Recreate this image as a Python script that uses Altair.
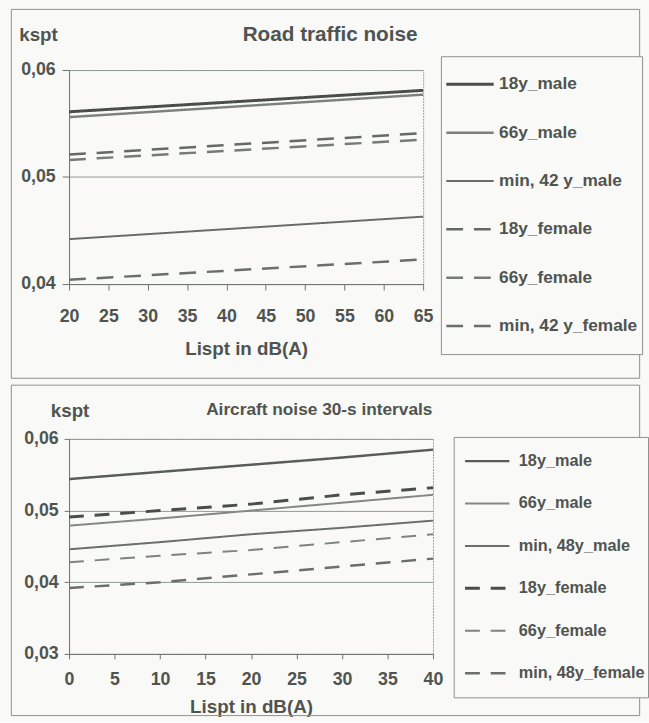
import altair as alt
import pandas as pd

FONT = "Liberation Sans"
INK = "#505450"
FRAME = "#8c918c"
GRID = "#8f998f"
BG = "#f9f9f7"

# ---- Road traffic noise ----
road_x = [20, 65]
road_series = ["18y_male", "66y_male", "min, 42 y_male",
               "18y_female", "66y_female", "min, 42 y_female"]
road_values = {
    "18y_male": [0.0561, 0.0581],
    "66y_male": [0.0556, 0.0577],
    "min, 42 y_male": [0.0442, 0.0463],
    "18y_female": [0.0521, 0.0541],
    "66y_female": [0.0516, 0.0535],
    "min, 42 y_female": [0.0404, 0.0423],
}
road_x_ticks = [20, 25, 30, 35, 40, 45, 50, 55, 60, 65]
road_y_ticks = [0.04, 0.05, 0.06]

# ---- Aircraft noise, 30-s intervals ----
air_x = [0, 10, 20, 30, 40]
air_series = ["18y_male", "66y_male", "min, 48y_male",
              "18y_female", "66y_female", "min, 48y_female"]
air_values = {
    "18y_male": [0.0544, 0.0554, 0.0564, 0.0574, 0.0585],
    "66y_male": [0.0479, 0.0489, 0.0500, 0.0511, 0.0522],
    "min, 48y_male": [0.0446, 0.0456, 0.0467, 0.0476, 0.0486],
    "18y_female": [0.0491, 0.0500, 0.0509, 0.0522, 0.0532],
    "66y_female": [0.0428, 0.0437, 0.0445, 0.0456, 0.0467],
    "min, 48y_female": [0.0392, 0.0400, 0.0411, 0.0422, 0.0433],
}
air_x_ticks = [0, 5, 10, 15, 20, 25, 30, 35, 40]
air_y_ticks = [0.03, 0.04, 0.05, 0.06]


def long_table(xs, series, values):
    rows = []
    for s in series:
        for x, v in zip(xs, values[s]):
            rows.append({"L": x, "k": v, "s": s})
    return pd.DataFrame(rows)


def panel(df, series, colors, dashes, widths, x_dom, x_ticks, y_dom, y_ticks,
          w, h, title, title_x, title_y, title_size, kspt_x, kspt_y,
          x_title_y, y_tick, y_pad, x_tick, x_pad, frame, legend_kw):
    leg = alt.Legend(
        orient="none", title=None, symbolType="stroke",
        labelFont=FONT, labelFontWeight="bold", labelColor=INK,
        strokeColor=FRAME, fillColor=BG, labelLimit=0, **legend_kw,
    )
    lines = alt.Chart(df).mark_line().encode(
        x=alt.X("L:Q", scale=alt.Scale(domain=x_dom, nice=False, zero=False),
                axis=alt.Axis(values=x_ticks, format="d", grid=False,
                              labelFlush=False, labelOverlap=False,
                              tickSize=x_tick, labelPadding=x_pad,
                              labelFontSize=18, labelFontWeight="bold",
                              labelFont=FONT, labelColor=INK,
                              domainColor="#6f736f", tickColor="#6f736f",
                              title="Lispt in dB(A)", titleFont=FONT,
                              titleFontSize=19, titleFontWeight="bold",
                              titleColor=INK, titleY=x_title_y,
                              titleBaseline="middle")),
        y=alt.Y("k:Q", scale=alt.Scale(domain=y_dom, nice=False, zero=False),
                axis=alt.Axis(values=y_ticks,
                              labelExpr="replace(format(datum.value, '.2f'), '.', ',')",
                              grid=True, gridColor=GRID, gridWidth=1,
                              labelFlush=False, labelOverlap=False,
                              tickSize=y_tick, labelPadding=y_pad,
                              labelFontSize=18, labelFontWeight="bold",
                              labelFont=FONT, labelColor=INK,
                              domainColor="#6f736f", tickColor="#6f736f",
                              title="kspt", titleFont=FONT, titleFontSize=19,
                              titleFontWeight="bold", titleColor=INK,
                              titleAngle=0, titleAlign="left",
                              titleBaseline="middle",
                              titleX=kspt_x, titleY=kspt_y)),
        color=alt.Color("s:N", sort=series,
                        scale=alt.Scale(domain=series, range=colors), legend=leg),
        strokeDash=alt.StrokeDash("s:N", sort=series,
                                  scale=alt.Scale(domain=series, range=dashes),
                                  legend=leg),
        strokeWidth=alt.StrokeWidth("s:N", sort=series,
                                    scale=alt.Scale(type="ordinal", domain=series,
                                                    range=widths),
                                    legend=leg),
    )
    box = alt.Chart(pd.DataFrame({"f": [0]})).mark_rect(
        fill="transparent", stroke=FRAME, strokeWidth=1
    ).encode(
        x=alt.value(frame[0]), x2=alt.value(frame[1]),
        y=alt.value(frame[2]), y2=alt.value(frame[3]),
    )
    head = alt.Chart(pd.DataFrame({"t": [title]})).mark_text(
        font=FONT, fontSize=title_size, fontWeight="bold", color=INK,
        align="left", baseline="middle"
    ).encode(text="t:N", x=alt.value(title_x), y=alt.value(title_y))
    return alt.layer(box, lines, head).properties(width=w, height=h)


road = panel(
    long_table(road_x, road_series, road_values), road_series,
    colors=["#4a4e4a", "#7c817c", "#676c67", "#656a65", "#767b76", "#6a6f6a"],
    dashes=[[1, 0], [1, 0], [1, 0], [17, 11], [17, 11], [17, 11]],
    widths=[3, 2.5, 2, 2.5, 2.5, 2.5],
    x_dom=[20, 65], x_ticks=road_x_ticks,
    y_dom=[0.04, 0.06], y_ticks=road_y_ticks,
    w=359, h=217,
    title="Road traffic noise", title_x=176, title_y=-35, title_size=21,
    kspt_x=-51, kspt_y=-36, x_title_y=65,
    y_tick=7, y_pad=7, x_tick=6, x_pad=18,
    frame=[-58.5, 578.5, -61.5, 312.5],
    legend_kw=dict(legendX=377, legendY=-14, padding=4, clipHeight=49,
                   rowPadding=0, symbolSize=2304, labelFontSize=17.5,
                   labelOffset=4, symbolOffset=0),
)

air = panel(
    long_table(air_x, air_series, air_values), air_series,
    colors=["#585d58", "#838883", "#6a6f6a", "#4a4e4a", "#7e837e", "#6a6f6a"],
    dashes=[[1, 0], [1, 0], [1, 0], [15, 11], [15, 11], [15, 11]],
    widths=[2.5, 2, 2, 3, 2, 2.5],
    x_dom=[0, 40], x_ticks=air_x_ticks,
    y_dom=[0.03, 0.06], y_ticks=air_y_ticks,
    w=369, h=218,
    title="Aircraft noise 30-s intervals", title_x=139, title_y=-29, title_size=17.5,
    kspt_x=-19, kspt_y=-29, x_title_y=53,
    y_tick=5, y_pad=6, x_tick=5, x_pad=12,
    frame=[-58.5, 578.5, -54.5, 280.5],
    legend_kw=dict(legendX=390, legendY=-2, padding=3, clipHeight=43,
                   rowPadding=0, symbolSize=2025, labelFontSize=16.5,
                   labelOffset=8, symbolOffset=7),
)

chart = alt.concat(road, air, columns=1, spacing=4).resolve_scale(
    x="independent", y="independent", color="independent",
    strokeDash="independent", strokeWidth="independent",
).resolve_legend(
    color="independent", strokeDash="independent", strokeWidth="independent",
).configure(
    background=BG,
    padding={"left": 10, "top": 3, "right": 0, "bottom": 0},
).configure_view(
    stroke="#9a9f9a", strokeWidth=1, strokeDash=[2, 1], fill=BG,
)

chart.save("out.html", embed_options={"renderer": "svg", "actions": False})
